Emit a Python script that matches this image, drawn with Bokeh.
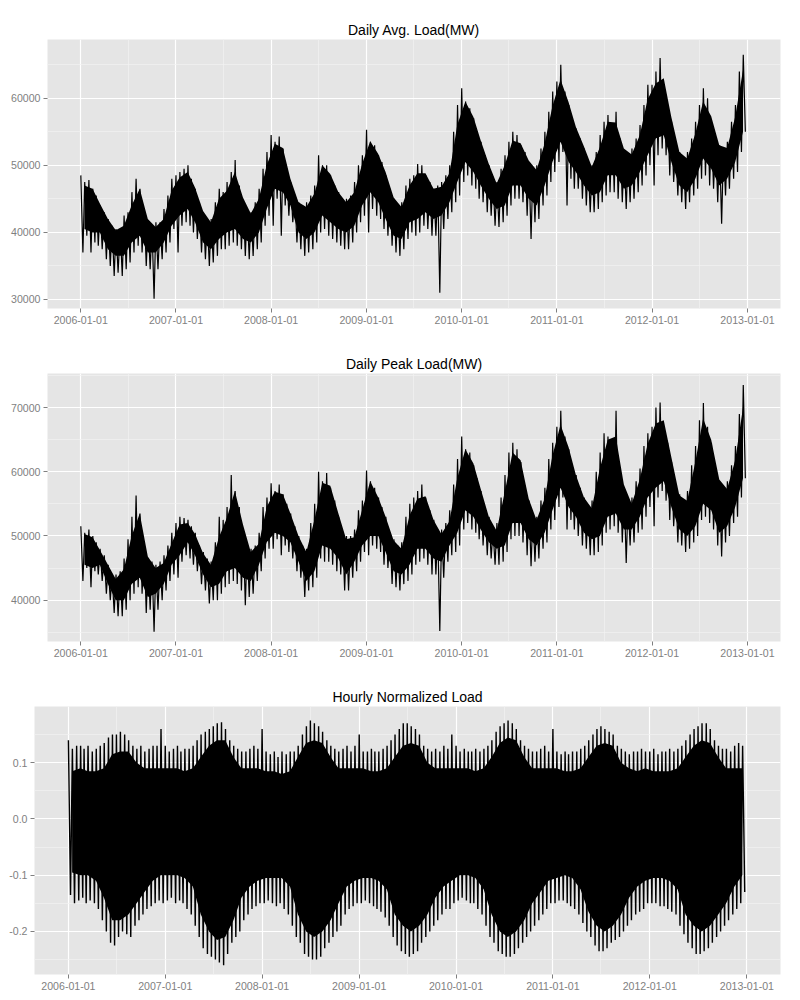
from datetime import datetime
from bokeh.plotting import figure
from bokeh.models import Range1d, FixedTicker, PrintfTickFormatter, DatetimeTickFormatter, ColumnDataSource
from bokeh.embed import file_html
from bokeh.resources import INLINE

# ---- data: half-month samples (24 per year, 2006-2012) ----
# Daily average load, thousands of MW: upper (weekday) and lower (weekend/holiday) extremes
avg_hi = [
    48.5, 47.5, 47.8, 46.5, 45.5, 44.0, 43.0, 42.0, 41.0, 40.5, 40.5, 42.5,
    43.0, 46.0, 48.0, 46.5, 43.5, 41.5, 41.0, 41.5, 41.5, 43.5, 45.5, 48.0,
    48.5, 49.0, 49.5, 50.0, 48.0, 46.5, 44.5, 43.0, 42.0, 42.0, 44.5, 46.5,
    46.0, 47.5, 49.0, 50.8, 47.0, 44.5, 43.5, 43.0, 44.5, 46.5, 49.5, 52.0,
    54.5, 53.5, 54.3, 52.5, 49.5, 47.5, 45.5, 44.5, 44.0, 44.5, 45.5, 47.0,
    51.5, 50.0, 50.0, 48.5, 47.0, 46.0, 45.0, 45.0, 45.5, 47.5, 50.0, 51.5,
    55.3, 53.5, 53.0, 51.5, 50.5, 48.5, 46.5, 45.0, 44.0, 44.5, 47.0, 48.0,
    48.5, 50.2, 50.0, 48.5, 47.5, 46.5, 47.0, 47.5, 48.5, 50.0, 55.0, 59.0,
    61.5, 59.5, 58.5, 57.0, 55.0, 53.5, 51.5, 50.0, 48.0, 47.5, 49.5, 51.5,
    53.5, 55.0, 54.5, 53.0, 52.0, 50.5, 49.5, 50.0, 52.5, 55.0, 58.0, 61.0,
    62.5, 65.0, 61.0, 59.0, 57.0, 55.5, 54.0, 52.5, 50.5, 50.0, 52.0, 54.5,
    56.5, 57.5, 56.0, 58.0, 54.0, 52.0, 51.5, 52.5, 54.0, 56.0, 59.0, 62.0,
    62.0, 64.0, 66.0, 62.0, 59.0, 56.5, 53.0, 52.0, 51.0, 52.0, 54.0, 56.5,
    59.0, 61.5, 60.0, 56.0, 54.0, 53.0, 52.5, 53.5, 56.5, 59.0, 64.0, 66.5,
]
avg_lo = [
    37.0, 39.5, 37.0, 38.5, 38.0, 37.5, 36.0, 35.0, 33.5, 34.0, 33.5, 34.5,
    35.5, 37.0, 38.0, 37.0, 35.0, 34.5, 30.1, 34.5, 36.0, 37.0, 38.5, 40.5,
    37.0, 41.0, 41.5, 41.0, 40.0, 39.0, 37.0, 36.0, 35.0, 35.5, 36.5, 37.5,
    37.5, 38.0, 38.5, 38.0, 37.5, 36.5, 36.0, 36.5, 37.5, 38.5, 41.0, 42.5,
    41.0, 45.0, 39.5, 44.0, 42.5, 41.5, 38.5, 37.5, 36.5, 37.0, 37.5, 38.5,
    40.0, 40.5, 39.5, 39.0, 38.5, 38.0, 37.5, 37.5, 38.5, 40.0, 41.5, 42.5,
    40.0, 43.5, 42.5, 42.0, 40.5, 39.5, 38.0, 37.0, 36.5, 37.5, 39.0, 40.0,
    39.5, 40.0, 41.0, 40.5, 39.5, 39.5, 31.0, 40.5, 42.0, 43.0, 44.5, 45.5,
    47.5, 48.5, 47.0, 46.5, 45.0, 44.5, 43.0, 42.5, 41.0, 40.8, 41.5, 42.5,
    44.0, 45.0, 45.0, 44.5, 42.5, 39.0, 41.5, 42.0, 44.0, 45.5, 47.5, 49.0,
    50.5, 52.0, 44.0, 48.0, 46.5, 46.5, 45.0, 44.0, 43.0, 43.0, 43.5, 44.5,
    45.5, 46.0, 46.0, 45.0, 44.5, 43.5, 44.5, 45.0, 46.0, 47.0, 48.5, 50.0,
    47.0, 51.5, 52.5, 51.5, 48.5, 47.5, 45.5, 44.5, 43.5, 44.5, 45.5, 46.5,
    48.0, 48.5, 47.0, 46.5, 44.5, 41.3, 45.5, 46.5, 48.0, 49.0, 52.0, 55.0,
]
# Daily average load, monthly dense core of the band (thousands of MW)
avg_band_top = [
    47.0, 46.5, 44.3, 42.0, 40.3, 41.0, 44.0, 46.5, 42.0, 40.8, 42.0, 46.2,
    48.2, 49.0, 46.7, 43.2, 41.5, 45.0, 46.2, 49.0, 45.2, 42.8, 45.0, 50.0,
    53.2, 52.6, 48.0, 44.5, 43.8, 45.8, 50.0, 48.7, 46.0, 44.5, 46.0, 50.2,
    53.6, 51.7, 49.0, 45.2, 43.8, 47.0, 48.8, 48.8, 46.5, 46.8, 48.8, 56.0,
    59.5, 57.2, 53.7, 50.2, 47.3, 50.0, 53.7, 53.3, 50.7, 49.3, 53.2, 58.8,
    62.8, 59.4, 55.7, 52.8, 49.8, 52.7, 56.5, 56.4, 52.5, 51.6, 54.5, 59.8,
    62.2, 63.0, 57.2, 52.0, 51.0, 54.7, 59.5, 57.3, 53.0, 52.6, 57.2, 64.2,
]
avg_band_bot = [
    40.5, 40.0, 40.0, 37.5, 36.5, 36.5, 38.5, 39.5, 37.0, 37.0, 38.5, 41.0,
    42.5, 43.5, 41.5, 38.5, 37.5, 39.0, 40.0, 40.5, 39.0, 38.5, 40.0, 43.5,
    46.5, 46.0, 44.0, 40.0, 39.0, 40.0, 42.5, 41.5, 40.5, 40.0, 41.0, 44.0,
    46.0, 44.5, 42.0, 39.5, 39.0, 41.5, 42.0, 43.0, 42.0, 42.5, 44.5, 47.5,
    50.5, 49.0, 47.0, 45.0, 43.5, 44.0, 47.0, 47.0, 45.0, 44.0, 47.0, 50.5,
    53.5, 50.5, 49.0, 47.0, 45.5, 46.0, 48.5, 48.5, 46.5, 47.0, 49.0, 51.5,
    54.0, 54.5, 50.5, 47.0, 46.0, 48.0, 51.0, 49.5, 47.0, 48.0, 50.5, 55.0,
]
# Daily peak load, thousands of MW
peak_hi = [
    51.5, 50.5, 51.0, 50.0, 49.0, 48.0, 47.0, 45.5, 44.0, 44.0, 44.5, 46.5,
    49.5, 53.0, 56.3, 53.5, 48.5, 46.5, 46.0, 45.5, 46.0, 47.0, 48.5, 50.5,
    52.0, 53.0, 52.8, 52.5, 51.5, 50.5, 48.5, 47.5, 46.5, 46.0, 49.0, 53.0,
    52.5, 54.5, 59.5, 57.0, 54.5, 51.0, 48.5, 48.0, 48.5, 50.5, 54.5, 56.0,
    58.2, 57.0, 58.0, 56.5, 55.0, 53.5, 51.5, 50.0, 48.5, 48.0, 52.0, 55.0,
    60.0, 58.5, 59.8, 57.5, 55.5, 53.0, 50.5, 50.0, 50.0, 51.0, 54.0, 55.5,
    60.2, 58.5, 57.5, 56.0, 54.5, 53.0, 50.5, 49.5, 48.5, 49.0, 53.0, 55.0,
    56.0, 57.0, 58.0, 56.0, 54.0, 52.5, 51.0, 51.0, 52.0, 54.0, 58.0, 62.0,
    65.5, 63.5, 63.0, 61.0, 59.0, 57.0, 54.5, 53.0, 51.0, 52.0, 56.0, 59.5,
    63.0, 64.5, 63.5, 61.5, 57.5, 55.5, 53.5, 53.0, 55.5, 57.5, 62.0, 64.5,
    67.0, 69.5, 65.5, 63.5, 61.0, 59.5, 57.5, 56.0, 54.5, 55.5, 60.0, 63.0,
    66.0, 65.5, 64.0, 69.5, 60.0, 57.5, 55.5, 56.0, 58.5, 60.5, 64.0, 66.0,
    67.0, 70.0, 70.8, 67.0, 64.5, 61.5, 57.5, 56.5, 55.5, 57.0, 61.0, 64.0,
    68.0, 70.7, 67.0, 64.5, 60.5, 58.5, 57.5, 58.5, 61.0, 64.0, 69.0, 73.5,
]
peak_lo = [
    43.0, 45.0, 42.0, 44.5, 44.0, 43.0, 41.0, 40.0, 38.0, 37.5, 37.5, 38.5,
    40.0, 41.0, 42.0, 41.0, 38.0, 38.5, 35.1, 38.5, 40.0, 41.5, 43.0, 44.0,
    43.5, 46.0, 47.0, 46.5, 45.5, 44.5, 42.5, 41.5, 39.5, 40.0, 40.0, 41.0,
    42.0, 42.5, 43.0, 42.5, 41.5, 39.2, 40.5, 41.0, 43.0, 44.5, 46.5, 48.0,
    48.0, 49.5, 47.0, 48.5, 47.5, 46.5, 44.5, 43.5, 40.5, 41.5, 42.0, 43.5,
    46.5, 46.0, 46.0, 45.5, 44.5, 44.0, 41.5, 41.5, 43.5, 44.5, 46.0, 47.5,
    47.0, 48.5, 48.0, 47.5, 45.5, 45.0, 42.5, 42.0, 41.5, 42.5, 43.0, 44.0,
    45.5, 46.0, 46.5, 45.5, 44.0, 44.0, 35.2, 43.5, 46.0, 47.0, 47.5, 48.5,
    51.0, 52.0, 51.0, 50.5, 49.5, 48.5, 47.0, 46.5, 45.5, 45.5, 46.0, 47.5,
    49.5, 50.0, 50.0, 49.0, 47.0, 45.3, 46.0, 46.5, 48.0, 49.0, 51.0, 52.5,
    54.5, 56.0, 51.0, 52.5, 51.0, 50.0, 48.5, 48.0, 47.0, 47.0, 47.5, 48.5,
    50.5, 51.0, 51.5, 50.5, 49.0, 45.8, 48.5, 49.0, 50.5, 51.0, 53.0, 54.5,
    51.5, 56.0, 57.0, 55.5, 52.5, 51.5, 49.0, 48.5, 47.5, 48.0, 49.0, 50.0,
    52.5, 53.0, 52.0, 51.0, 48.5, 46.8, 49.0, 50.0, 52.0, 53.0, 56.0, 59.0,
]
peak_band_top = [
    50.3, 49.8, 47.8, 45.5, 43.3, 44.8, 50.0, 53.5, 46.8, 45.0, 45.8, 48.8,
    51.8, 52.0, 50.3, 47.3, 45.5, 49.8, 52.8, 57.0, 51.8, 47.5, 48.8, 54.5,
    56.9, 56.5, 53.5, 50.0, 47.5, 52.5, 58.3, 57.8, 53.5, 49.5, 49.8, 54.0,
    58.5, 56.0, 53.0, 49.3, 48.0, 53.2, 55.8, 56.2, 52.5, 50.3, 52.3, 59.0,
    63.5, 61.3, 57.3, 53.0, 50.8, 56.8, 63.0, 61.8, 55.8, 52.5, 55.8, 62.5,
    67.3, 63.8, 59.5, 56.0, 54.3, 60.5, 65.0, 65.5, 58.0, 55.0, 58.8, 64.3,
    67.5, 68.0, 62.3, 56.3, 55.5, 61.5, 68.3, 65.0, 58.8, 57.3, 61.8, 70.0,
]
peak_band_bot = [
    45.5, 45.0, 45.5, 42.5, 40.0, 40.0, 42.5, 43.5, 40.5, 41.0, 42.5, 45.5,
    47.0, 49.0, 47.0, 44.0, 42.0, 42.5, 44.5, 45.0, 43.5, 43.0, 45.5, 49.0,
    50.5, 50.0, 49.0, 46.0, 43.0, 44.5, 48.5, 48.0, 46.5, 44.0, 46.0, 48.5,
    50.0, 50.0, 47.5, 44.5, 44.0, 45.5, 48.0, 48.0, 46.5, 46.0, 48.5, 50.5,
    54.0, 53.0, 51.0, 49.0, 48.0, 48.5, 52.0, 52.0, 49.5, 48.5, 50.5, 54.0,
    57.5, 54.5, 53.0, 50.5, 49.5, 50.0, 53.0, 53.5, 51.0, 51.0, 53.0, 56.0,
    57.5, 58.5, 54.5, 51.0, 50.0, 51.5, 55.0, 54.0, 50.5, 51.5, 54.5, 59.0,
]
# Hourly normalized load: upper and lower extremes (half-month)
hourly_hi = [
    .140, .125, .130, .130, .125, .130, .120, .125, .130, .135, .145, .150,
    .150, .155, .150, .140, .130, .125, .130, .120, .125, .130, .130, .160,
    .130, .120, .125, .130, .120, .125, .125, .130, .140, .150, .155, .160,
    .165, .170, .172, .160, .140, .130, .125, .120, .120, .125, .130, .125,
    .160, .120, .115, .120, .110, .120, .115, .120, .120, .130, .150, .165,
    .175, .170, .165, .155, .140, .130, .125, .120, .125, .130, .120, .130,
    .150, .120, .120, .125, .120, .120, .125, .130, .140, .150, .160, .170,
    .170, .165, .160, .150, .130, .125, .120, .125, .120, .130, .125, .150,
    .130, .120, .125, .120, .120, .125, .120, .125, .130, .140, .155, .165,
    .170, .175, .170, .160, .140, .130, .125, .120, .120, .125, .130, .120,
    .160, .120, .115, .120, .115, .120, .120, .125, .130, .140, .150, .160,
    .165, .160, .155, .150, .130, .125, .120, .115, .120, .120, .125, .120,
    .120, .125, .115, .120, .120, .125, .120, .125, .130, .140, .150, .160,
    .165, .170, .170, .160, .140, .130, .125, .125, .120, .130, .135, .130,
]
hourly_lo = [
    -.135, -.150, -.145, -.140, -.150, -.145, -.150, -.160, -.180, -.200, -.220, -.225,
    -.210, -.200, -.205, -.210, -.190, -.180, -.170, -.160, -.155, -.150, -.145, -.150,
    -.145, -.140, -.150, -.145, -.150, -.160, -.170, -.190, -.210, -.230, -.240, -.245,
    -.250, -.255, -.260, -.240, -.220, -.210, -.200, -.180, -.170, -.160, -.155, -.150,
    -.150, -.145, -.150, -.155, -.150, -.160, -.170, -.190, -.210, -.220, -.240, -.245,
    -.250, -.250, -.245, -.230, -.220, -.210, -.200, -.190, -.170, -.160, -.155, -.150,
    -.150, -.145, -.150, -.155, -.160, -.165, -.175, -.190, -.210, -.225, -.235, -.240,
    -.245, -.240, -.235, -.220, -.210, -.200, -.190, -.180, -.170, -.160, -.160, -.150,
    -.145, -.140, -.145, -.150, -.150, -.160, -.170, -.190, -.210, -.220, -.235, -.240,
    -.245, -.245, -.240, -.230, -.220, -.210, -.200, -.190, -.180, -.170, -.160, -.150,
    -.150, -.145, -.145, -.150, -.155, -.160, -.170, -.185, -.200, -.210, -.225, -.235,
    -.235, -.230, -.220, -.215, -.210, -.200, -.190, -.180, -.170, -.165, -.160, -.150,
    -.150, -.150, -.155, -.155, -.160, -.165, -.170, -.190, -.205, -.220, -.230, -.240,
    -.240, -.235, -.230, -.220, -.210, -.200, -.190, -.180, -.170, -.160, -.150, -.130,
]
# Hourly normalized load: monthly solid core of the band
hourly_band_top = [
    .085, .090, .085, .085, .090, .115, .120, .120, .100, .090, .090, .090,
    .090, .090, .085, .090, .110, .130, .140, .140, .110, .090, .090, .090,
    .085, .085, .080, .085, .110, .135, .140, .135, .110, .090, .090, .090,
    .090, .085, .085, .090, .110, .130, .135, .130, .100, .090, .090, .090,
    .090, .090, .085, .090, .110, .135, .145, .140, .110, .090, .090, .090,
    .090, .085, .085, .090, .110, .130, .135, .130, .100, .090, .085, .090,
    .085, .085, .085, .090, .110, .130, .140, .135, .110, .090, .090, .090,
]
hourly_band_bot = [
    -.095, -.100, -.100, -.110, -.140, -.180, -.180, -.170, -.150, -.130, -.110, -.100,
    -.100, -.100, -.105, -.120, -.170, -.200, -.215, -.210, -.180, -.140, -.120, -.110,
    -.105, -.105, -.105, -.120, -.170, -.200, -.210, -.200, -.180, -.150, -.120, -.110,
    -.105, -.105, -.110, -.125, -.170, -.190, -.200, -.190, -.170, -.140, -.120, -.110,
    -.100, -.100, -.105, -.125, -.170, -.200, -.210, -.200, -.180, -.150, -.130, -.110,
    -.105, -.100, -.105, -.125, -.165, -.190, -.200, -.190, -.170, -.140, -.120, -.110,
    -.105, -.105, -.110, -.125, -.170, -.190, -.200, -.190, -.170, -.150, -.120, -.100,
]

first_year = 2006
last_year = 2012
year_ticks = list(range(2006, 2014))
avg_yticks = [30000, 40000, 50000, 60000]
avg_yminor = [35000, 45000, 55000, 65000]
peak_yticks = [40000, 50000, 60000, 70000]
peak_yminor = [35000, 45000, 55000, 65000, 75000]
hourly_yticks = [-0.2, -0.1, 0.0, 0.1]
hourly_yminor = [-0.25, -0.15, -0.05, 0.05, 0.15]

titles = ["Daily Avg. Load(MW)", "Daily Peak Load(MW)", "Hourly Normalized Load"]

# ---- helpers ----
EPOCH = datetime(1970, 1, 1)


def ms(dt):
    return (dt - EPOCH).total_seconds() * 1000.0


def zigzag(hi, lo, scale):
    xs, ys = [], []
    for k in range(len(hi)):
        yr = first_year + k // 24
        mo = (k % 24) // 2 + 1
        day = 1 if k % 2 == 0 else 16
        xs.append(datetime(yr, mo, day))
        ys.append(hi[k] * scale)
        xs.append(datetime(yr, mo, day + 8))
        ys.append(lo[k] * scale)
    return xs, ys


def monthly(top, bot, scale):
    xs = []
    for k in range(len(top)):
        yr = first_year + k // 12
        mo = k % 12 + 1
        xs.append(datetime(yr, mo, 15))
    return dict(x=xs, y1=[v * scale for v in top], y2=[v * scale for v in bot])


data_start = datetime(first_year, 1, 1)
data_end = datetime(last_year, 12, 31)
pad = (data_end - data_start) * 0.05
x_start = ms(data_start - pad)
x_end = ms(data_end + pad)

major_x = [ms(datetime(y, 1, 1)) for y in year_ticks]
minor_x = [ms(datetime(y, 7, 1)) for y in year_ticks[:-1]]

FONT = "Liberation Sans"
BG = "#E5E5E5"


def make_fig(title, height, border_top, border_bottom, border_left, y0, y1,
             yticks, yminor, yfmt, zz, band, lw):
    p = figure(width=800, height=height, x_axis_type="datetime",
               output_backend="svg", toolbar_location=None,
               x_range=Range1d(x_start, x_end), y_range=Range1d(y0, y1),
               min_border_top=border_top, min_border_bottom=border_bottom,
               min_border_left=border_left, min_border_right=20,
               background_fill_color=BG, border_fill_color="white",
               outline_line_color=None)
    p.title.text = title
    p.title.align = "center"
    p.title.text_font = FONT
    p.title.text_font_size = "14px"
    p.title.text_font_style = "normal"
    p.title.text_color = "black"
    p.title.standoff = 3

    p.xaxis.ticker = FixedTicker(ticks=major_x, minor_ticks=minor_x)
    p.xaxis.formatter = DatetimeTickFormatter(
        years="%Y-%m-%d", months="%Y-%m-%d", days="%Y-%m-%d",
        hours="%Y-%m-%d", minutes="%Y-%m-%d", seconds="%Y-%m-%d",
        milliseconds="%Y-%m-%d", microseconds="%Y-%m-%d")
    p.yaxis.ticker = FixedTicker(ticks=yticks, minor_ticks=yminor)
    p.yaxis.formatter = PrintfTickFormatter(format=yfmt)

    for ax in (p.xaxis[0], p.yaxis[0]):
        ax.axis_line_color = None
        ax.major_tick_line_color = "#7F7F7F"
        ax.major_tick_in = 0
        ax.major_tick_out = 4
        ax.minor_tick_line_color = None
        ax.major_label_text_font = FONT
        ax.major_label_text_font_size = "10.6px"
        ax.major_label_text_color = "#7F7F7F"
        ax.major_label_standoff = 3

    for g in (p.xgrid[0], p.ygrid[0]):
        g.grid_line_color = "white"
        g.grid_line_width = 1.2
        g.minor_grid_line_color = "#F2F2F2"
        g.minor_grid_line_width = 0.7

    p.varea(x="x", y1="y1", y2="y2", source=ColumnDataSource(band), fill_color="black")
    p.line("x", "y", source=ColumnDataSource(dict(x=zz[0], y=zz[1])),
           line_color="black", line_width=lw)
    return p


p1 = make_fig(titles[0], 333, 39, 25, 47, 28650, 68760, avg_yticks, avg_yminor, "%d",
              zigzag(avg_hi, avg_lo, 1000.0), monthly(avg_band_top, avg_band_bot, 1000.0), 1.2)
p2 = make_fig(titles[1], 334, 40, 26, 47, 33560, 75300, peak_yticks, peak_yminor, "%d",
              zigzag(peak_hi, peak_lo, 1000.0), monthly(peak_band_top, peak_band_bot, 1000.0), 1.2)
p3 = make_fig(titles[2], 333, 39, 26, 34, -0.2765, 0.2, hourly_yticks, hourly_yminor, "%.1f",
              zigzag(hourly_hi, hourly_lo, 1.0), monthly(hourly_band_top, hourly_band_bot, 1.0), 1.4)

open("out.html", "w").write(file_html([p1, p2, p3], INLINE))
